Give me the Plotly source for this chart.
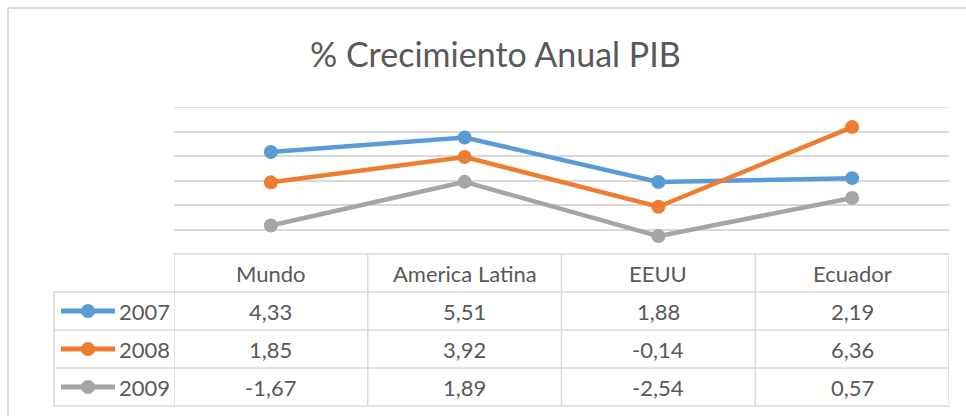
import plotly.graph_objects as go

categories = ["Mundo", "America Latina", "EEUU", "Ecuador"]
years = ["2007", "2008", "2009"]
v2007 = [4.33, 5.51, 1.88, 2.19]
v2008 = [1.85, 3.92, -0.14, 6.36]
v2009 = [-1.67, 1.89, -2.54, 0.57]
series = [v2007, v2008, v2009]
colors = ["#5B9BD5", "#ED7D31", "#A5A5A5"]
title_text = "% Crecimiento Anual PIB"
y_min, y_max, y_step = -4, 8, 2

W, H = 966, 416
GRID = "#D9D9D9"
TXT = "#595959"
FONT = "Lato"
TSIZE = 22


def px(x):
    return x / W


def py(y):
    return 1 - y / H


plot_l, plot_r = 174, 949
plot_t, plot_b = 107, 254
row_lines = [254, 292, 330, 368, 406]
leg_l = 54

fig = go.Figure()
for name, vals, col in zip(years, series, colors):
    fig.add_trace(go.Scatter(
        x=categories, y=vals, name=name, mode="lines+markers",
        line=dict(color=col, width=4.5),
        marker=dict(color=col, size=14),
        cliponaxis=False, showlegend=False,
    ))

shapes = []
lw = 1.5
# top gridline at range edge
shapes.append(dict(type="line", xref="paper", yref="y", x0=px(plot_l), x1=px(plot_r), y0=y_max, y1=y_max,
                   line=dict(color=GRID, width=lw), layer="below"))
# outer frame
shapes.append(dict(type="line", xref="paper", yref="paper", x0=px(8), x1=px(8), y0=py(8), y1=py(416),
                   line=dict(color=GRID, width=2)))
shapes.append(dict(type="line", xref="paper", yref="paper", x0=px(8), x1=px(966), y0=py(8), y1=py(8),
                   line=dict(color=GRID, width=2)))
# table horizontal lines
for i, ry in enumerate(row_lines):
    x0 = plot_l if i == 0 else leg_l
    shapes.append(dict(type="line", xref="paper", yref="paper", x0=px(x0), x1=px(plot_r),
                       y0=py(ry), y1=py(ry), line=dict(color=GRID, width=lw)))
# vertical lines of table at category boundaries
for k in range(len(categories) + 1):
    shapes.append(dict(type="line", xref="x", yref="paper", x0=k - 0.5, x1=k - 0.5,
                       y0=py(row_lines[0]), y1=py(row_lines[-1]), line=dict(color=GRID, width=lw)))
shapes.append(dict(type="line", xref="paper", yref="paper", x0=px(leg_l), x1=px(leg_l),
                   y0=py(row_lines[1]), y1=py(row_lines[-1]), line=dict(color=GRID, width=lw)))

annotations = [dict(text=title_text, xref="paper", yref="paper", x=px(495), y=py(54),
                    xanchor="center", yanchor="middle",
                    showarrow=False, font=dict(family=FONT, size=34, color=TXT))]

# header
hc = (row_lines[0] + row_lines[1]) / 2
for c in categories:
    annotations.append(dict(text=c, xref="x", yref="paper", x=c, y=py(hc), showarrow=False,
                            xanchor="center", yanchor="middle",
                            font=dict(family=FONT, size=TSIZE, color=TXT)))

for i, (name, vals, col) in enumerate(zip(years, series, colors)):
    rc = (row_lines[i + 1] + row_lines[i + 2]) / 2
    for c, v in zip(categories, vals):
        annotations.append(dict(text=f"{v:.2f}".replace(".", ","), xref="x", yref="paper", x=c,
                                y=py(rc), showarrow=False, xanchor="center", yanchor="middle",
                                font=dict(family=FONT, size=TSIZE, color=TXT)))
    # legend key
    shapes.append(dict(type="line", xref="paper", yref="paper", x0=px(61), x1=px(115), y0=py(rc), y1=py(rc),
                       line=dict(color=col, width=5)))
    shapes.append(dict(type="circle", xref="paper", yref="paper", x0=px(81), x1=px(95),
                       y0=py(rc + 7), y1=py(rc - 7), fillcolor=col, line=dict(color=col, width=0)))
    annotations.append(dict(text=name, xref="paper", yref="paper", x=px(117), y=py(rc),
                            xanchor="left", yanchor="middle", showarrow=False,
                            font=dict(family=FONT, size=TSIZE, color=TXT)))

fig.update_layout(
    width=W, height=H, margin=dict(l=0, r=0, t=0, b=0),
    paper_bgcolor="white", plot_bgcolor="white",
    xaxis=dict(domain=[px(plot_l), px(plot_r)], range=[-0.5, len(categories) - 0.5],
               showgrid=False, showticklabels=False, zeroline=False, showline=False, ticks=""),
    yaxis=dict(domain=[py(plot_b), py(plot_t)], range=[y_min, y_max], dtick=y_step, tick0=y_min,
               showgrid=True, gridcolor=GRID, gridwidth=lw, zeroline=True, zerolinecolor=GRID,
               zerolinewidth=lw, showticklabels=False, showline=False, ticks=""),
    shapes=shapes, annotations=annotations,
)

fig.write_html("out.html", config={"displayModeBar": False},
               post_script="document.body.style.margin='0';document.body.style.overflow='hidden';")
